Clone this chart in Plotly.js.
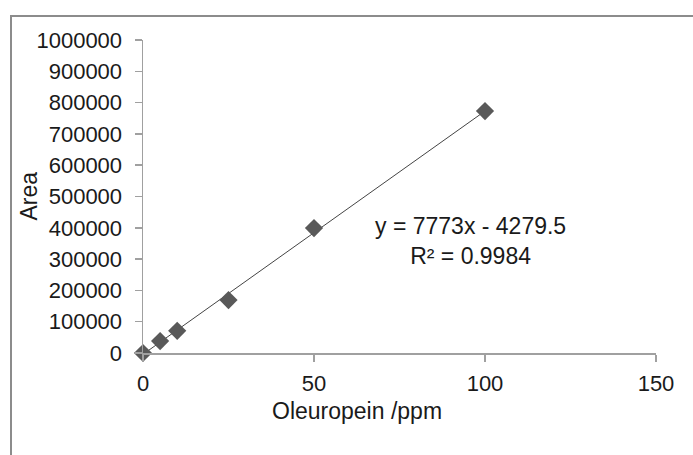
<!DOCTYPE html>
<html>
<head>
<meta charset="utf-8">
<script src="https://cdn.plot.ly/plotly-3.0.1.min.js"></script>
<style>
html,body{margin:0;padding:0;background:#fff;}
#chart{width:693px;height:455px;}
</style>
</head>
<body>
<div id="chart"></div>
<script>
// Data
const concentration = [0, 5, 10, 25, 50, 100];           // Oleuropein /ppm
const area = [0, 38000, 71000, 169000, 399000, 773000];  // Area
const slope = 7773;
const intercept = -4279.5;
const rSquared = 0.9984;
const trendX = [0, 100];
const trendY = trendX.map(x => slope * x + intercept);
const xTicks = [0, 50, 100, 150];
const yTicks = [0, 100000, 200000, 300000, 400000, 500000, 600000, 700000, 800000, 900000, 1000000];

const font = "Liberation Sans, Arial, sans-serif";
const textColor = '#1a1a1a';

const traces = [
  {
    x: trendX, y: trendY, type: 'scatter', mode: 'lines',
    line: {color: '#444444', width: 1}, hoverinfo: 'skip', showlegend: false
  },
  {
    x: concentration, y: area, type: 'scatter', mode: 'markers',
    marker: {symbol: 'diamond', size: 14, color: '#595959'},
    cliponaxis: false, showlegend: false
  }
];

const layout = {
  width: 693, height: 455,
  margin: {l: 143, r: 37, t: 40, b: 102},
  paper_bgcolor: '#ffffff', plot_bgcolor: '#ffffff',
  font: {family: font, size: 22, color: textColor},
  showlegend: false,
  xaxis: {
    range: [0, 150], tickvals: xTicks, ticktext: xTicks.map(String),
    showgrid: false, zeroline: false, showline: true,
    linecolor: '#a0a0a0', linewidth: 1.5,
    ticks: 'outside', ticklen: 7, tickcolor: '#a0a0a0', tickwidth: 1.5,
    tickfont: {family: font, size: 22, color: textColor},
    ticklabelstandoff: 3
  },
  yaxis: {
    range: [0, 1000000], tickvals: yTicks, ticktext: yTicks.map(String),
    showgrid: false, zeroline: false, showline: true,
    linecolor: '#a0a0a0', linewidth: 1.5,
    ticks: 'outside', ticklen: 7, tickcolor: '#a0a0a0', tickwidth: 1.5,
    tickfont: {family: font, size: 22, color: textColor},
    ticklabelstandoff: 8
  },
  annotations: [
    {
      text: 'Area', xref: 'paper', yref: 'paper',
      x: (28 - 143) / 513, y: 0.5, xanchor: 'center', yanchor: 'middle', textangle: -90,
      showarrow: false, font: {family: font, size: 23, color: textColor}
    },
    {
      text: 'Oleuropein /ppm', xref: 'paper', yref: 'paper',
      x: 0.417, y: -0.185, xanchor: 'center', yanchor: 'middle',
      showarrow: false, font: {family: font, size: 23, color: textColor}
    },
    {
      text: 'y = ' + slope + 'x - ' + Math.abs(intercept) + '<br>R² = ' + rSquared,
      xref: 'x', yref: 'y', x: 95.9, y: 358000,
      xanchor: 'center', yanchor: 'middle', align: 'center',
      showarrow: false, font: {family: font, size: 23, color: textColor}
    }
  ],
  shapes: [
    {
      type: 'rect', xref: 'paper', yref: 'paper',
      x0: -0.2573, x1: 1.2, y0: -0.5, y1: 1.0767,
      line: {color: '#8c8c8c', width: 2}, fillcolor: 'rgba(0,0,0,0)', layer: 'below'
    }
  ]
};

Plotly.newPlot('chart', traces, layout, {displayModeBar: false, staticPlot: true});
</script>
</body>
</html>
